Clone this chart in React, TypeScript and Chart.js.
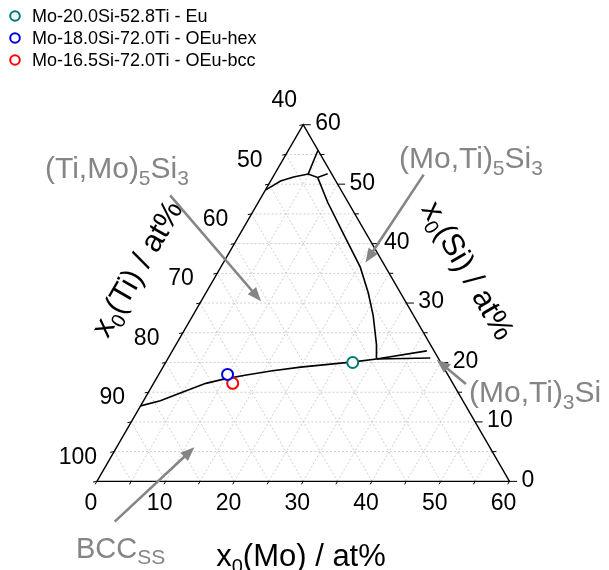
import React, { useEffect, useRef } from "react";
import { Chart, registerables } from "chart.js";

Chart.register(...registerables);

// ---------- data ----------
const moTicks = [0, 10, 20, 30, 40, 50, 60];
const siTicks = [0, 10, 20, 30, 40, 50, 60];
const tiTicks = [40, 50, 60, 70, 80, 90, 100];
const minorSteps = [0, 5, 10, 15, 20, 25, 30, 35, 40, 45, 50, 55, 60];
const gridSteps = [5, 10, 15, 20, 25, 30, 35, 40, 45, 50, 55];

const pointLabels = ["Mo-20.0Si-52.8Ti - Eu", "Mo-18.0Si-72.0Ti - OEu-hex", "Mo-16.5Si-72.0Ti - OEu-bcc"];
const pointSi = [20.0, 18.0, 16.5];
const pointTi = [52.8, 72.0, 72.0];
const pointColors = ["#007878", "#0000e6", "#ff0000"];

// phase boundaries (Mo, Si in at%)
const bccLineMo = [0, 2.45, 5.0, 7.6, 9.84, 12.6, 16.0, 20.0, 27.3, 30.36];
const bccLineSi = [12.7, 13.55, 15.02, 16.49, 17.2, 17.85, 18.57, 19.22, 20.1, 20.59];
const m3LowerMo = [30.36, 38.1];
const m3LowerSi = [20.59, 20.75];
const m3UpperMo = [30.36, 37.0];
const m3UpperSi = [20.59, 21.95];
const m5LineMo = [6.53, 10.08, 14.69, 20.28, 23.63, 26.26, 29.2, 30.36];
const m5LineSi = [51.14, 46.96, 42.0, 36.04, 31.68, 27.85, 22.93, 20.59];
const topLineMo = [0, 1.45, 2.99, 4.87, 6.53, 7.68];
const topLineSi = [49.0, 50.52, 51.22, 51.71, 51.14, 51.76];
const topBranchMo = [4.87, 4.3];
const topBranchSi = [51.71, 55.7];

// arrows: [tailMo, tailSi, tipMo, tipSi]
const arrowTi5Si3 = [-13.41, 48.11, 8.72, 30.3];
const arrowMo5Si3 = [21.72, 51.6, 20.65, 36.81];
const arrowMo3Si = [45.47, 16.38, 39.16, 20.48];
const arrowBcc = [5.98, -6.77, 11.31, 5.73];

// ---------- helpers ----------
const SQ3 = Math.sqrt(3) / 2;
const toXY = (mo: number, si: number) => ({ x: mo + si / 2, y: si * SQ3 });
const FONT = '"Liberation Sans", Arial, sans-serif';

function lineDs(pts: { x: number; y: number }[], color: string, width: number, order: number, dash: number[] = []) {
  return {
    type: "line" as const,
    data: pts,
    showLine: true,
    borderColor: color,
    borderWidth: width,
    borderDash: dash,
    pointRadius: 0,
    pointHoverRadius: 0,
    fill: false,
    tension: 0,
    order,
    clip: false as any,
  };
}

function curve(mo: number[], si: number[]) {
  return mo.map((m, i) => toXY(m, si[i]));
}

type Part = { t: string; sub?: boolean };

function richWidth(ctx: CanvasRenderingContext2D, parts: Part[], size: number, subSize: number) {
  let w = 0;
  for (const p of parts) {
    ctx.font = `${p.sub ? subSize : size}px ${FONT}`;
    w += ctx.measureText(p.t).width;
  }
  return w;
}

function drawRich(ctx: CanvasRenderingContext2D, parts: Part[], x: number, y: number, size: number, subSize: number, color: string) {
  ctx.fillStyle = color;
  ctx.textBaseline = "alphabetic";
  ctx.textAlign = "left";
  let cx = x;
  for (const p of parts) {
    ctx.font = `${p.sub ? subSize : size}px ${FONT}`;
    ctx.fillText(p.t, cx, p.sub ? y + size * 0.22 : y);
    cx += ctx.measureText(p.t).width;
  }
}

export default function App() {
  const ref = useRef<HTMLCanvasElement>(null);

  useEffect(() => {
    if (!ref.current) return;
    const datasets: any[] = [];

    // grid
    const gridColor = "#c4c4c4";
    for (const s of gridSteps) {
      datasets.push(lineDs([toXY(0, s), toXY(60 - s, s)], gridColor, 0.8, 5, [2, 2]));
      datasets.push(lineDs([toXY(s, 0), toXY(s, 60 - s)], gridColor, 0.8, 5, [2, 2]));
      datasets.push(lineDs([toXY(s, 0), toXY(0, s)], gridColor, 0.8, 5, [2, 2]));
    }
    // edges
    datasets.push(lineDs([toXY(0, 0), toXY(60, 0), toXY(0, 60), toXY(0, 0)], "#000", 1.4, 3));
    // ticks (lengths in data units; 1 unit ~ 7 px)
    for (const v of minorSteps) {
      const major = v % 10 === 0;
      const b = toXY(v, 0);
      datasets.push(lineDs([b, { x: b.x - 0.5 * 0.5, y: b.y - 0.866 * 0.5 }], "#000", 1, 3));
      const r = toXY(60 - v, v);
      datasets.push(lineDs([r, { x: r.x + (major ? 1.1 : 0.6), y: r.y }], "#000", 1, 3));
      const l = toXY(0, v);
      datasets.push(lineDs([l, { x: l.x - 0.55, y: l.y - 0.1 }], "#000", 1, 3));
    }
    // boundaries
    datasets.push(lineDs(curve(bccLineMo, bccLineSi), "#000", 1.6, 2));
    datasets.push(lineDs(curve(m3LowerMo, m3LowerSi), "#000", 1.6, 2));
    datasets.push(lineDs(curve(m3UpperMo, m3UpperSi), "#000", 1.6, 2));
    datasets.push(lineDs(curve(m5LineMo, m5LineSi), "#000", 1.6, 2));
    datasets.push(lineDs(curve(topLineMo, topLineSi), "#000", 1.6, 2));
    datasets.push(lineDs(curve(topBranchMo, topBranchSi), "#000", 1.6, 2));
    // points
    pointLabels.forEach((lab, i) => {
      const mo = 100 - pointSi[i] - pointTi[i];
      datasets.push({
        type: "scatter",
        label: lab,
        data: [toXY(mo, pointSi[i])],
        pointRadius: 5.5,
        pointHoverRadius: 5.5,
        pointBorderWidth: 2,
        pointBorderColor: pointColors[i],
        pointBackgroundColor: "#ffffff",
        showLine: false,
        order: 0,
        clip: false,
      });
    });

    const annot = {
      id: "annot",
      afterDatasetsDraw(chart: any) {
        const ctx: CanvasRenderingContext2D = chart.ctx;
        const xs = chart.scales.x;
        const ys = chart.scales.y;
        const P = (mo: number, si: number) => {
          const p = toXY(mo, si);
          return { x: xs.getPixelForValue(p.x), y: ys.getPixelForValue(p.y) };
        };
        ctx.save();
        // tick labels
        ctx.fillStyle = "#000";
        ctx.font = `23px ${FONT}`;
        ctx.textBaseline = "middle";
        ctx.textAlign = "center";
        moTicks.forEach((v) => {
          const p = P(v, 0);
          ctx.fillText(String(v), p.x - 6, p.y + 22);
        });
        tiTicks.forEach((v) => {
          const p = P(0, 100 - v);
          ctx.fillText(String(v), p.x - 19, p.y - 24);
        });
        ctx.textAlign = "left";
        siTicks.forEach((v) => {
          const p = P(60 - v, v);
          ctx.fillText(String(v), p.x + 12, p.y - 1);
        });

        // axis titles
        const tSize = 31;
        const tSub = 20;
        const moTitle: Part[] = [{ t: "x" }, { t: "0", sub: true }, { t: "(Mo) / at%" }];
        const siTitle: Part[] = [{ t: "x" }, { t: "0", sub: true }, { t: "(Si) / at%" }];
        const tiTitle: Part[] = [{ t: "x" }, { t: "0", sub: true }, { t: "(Ti) / at%" }];
        const drawCentered = (parts: Part[], cx: number, cy: number, ang: number) => {
          const w = richWidth(ctx, parts, tSize, tSub);
          ctx.save();
          ctx.translate(cx, cy);
          ctx.rotate(ang);
          drawRich(ctx, parts, -w / 2, tSize * 0.36, tSize, tSub, "#000");
          ctx.restore();
        };
        drawCentered(moTitle, 301, 555, 0);
        drawCentered(siTitle, 469, 270, Math.PI / 3);
        drawCentered(tiTitle, 136, 268, -Math.PI / 3);

        // arrows
        const gray = "#858585";
        const drawArrow = (a: number[]) => {
          const t = P(a[0], a[1]);
          const h = P(a[2], a[3]);
          const dx = h.x - t.x;
          const dy = h.y - t.y;
          const len = Math.hypot(dx, dy);
          const ux = dx / len;
          const uy = dy / len;
          const hl = 14;
          const hw = 5.5;
          ctx.strokeStyle = gray;
          ctx.lineWidth = 2.6;
          ctx.beginPath();
          ctx.moveTo(t.x, t.y);
          ctx.lineTo(h.x - ux * hl * 0.8, h.y - uy * hl * 0.8);
          ctx.stroke();
          ctx.fillStyle = gray;
          ctx.beginPath();
          ctx.moveTo(h.x, h.y);
          ctx.lineTo(h.x - ux * hl - uy * hw, h.y - uy * hl + ux * hw);
          ctx.lineTo(h.x - ux * hl + uy * hw, h.y - uy * hl - ux * hw);
          ctx.closePath();
          ctx.fill();
        };
        [arrowTi5Si3, arrowMo5Si3, arrowMo3Si, arrowBcc].forEach(drawArrow);

        // phase labels
        const pSize = 30;
        const pSub = 21;
        drawRich(ctx, [{ t: "(Ti,Mo)" }, { t: "5", sub: true }, { t: "Si" }, { t: "3", sub: true }], 45, 178, pSize, pSub, gray);
        drawRich(ctx, [{ t: "(Mo,Ti)" }, { t: "5", sub: true }, { t: "Si" }, { t: "3", sub: true }], 399, 168, pSize, pSub, gray);
        drawRich(ctx, [{ t: "(Mo,Ti)" }, { t: "3", sub: true }, { t: "Si" }], 469, 402, pSize, pSub, gray);
        drawRich(ctx, [{ t: "BCC" }, { t: "SS", sub: true }], 76, 558, pSize - 1, pSub, gray);

        // legend
        const rows = [16, 38, 60];
        pointLabels.forEach((lab, i) => {
          ctx.strokeStyle = pointColors[i];
          ctx.lineWidth = 2;
          ctx.fillStyle = "#fff";
          ctx.beginPath();
          ctx.arc(15, rows[i], 4.8, 0, Math.PI * 2);
          ctx.fill();
          ctx.stroke();
          ctx.fillStyle = "#000";
          ctx.font = `18px ${FONT}`;
          ctx.textAlign = "left";
          ctx.textBaseline = "middle";
          ctx.fillText(lab, 32, rows[i] + 1);
        });
        ctx.restore();
      },
    };

    const chart = new Chart(ref.current, {
      type: "scatter",
      data: { datasets },
      options: {
        animation: false,
        responsive: false,
        devicePixelRatio: 1,
        layout: { padding: 0 },
        events: [],
        plugins: { legend: { display: false }, tooltip: { enabled: false } },
        scales: {
          x: { type: "linear", min: -13.0, max: 73.38, display: false },
          y: { type: "linear", min: -11.82, max: 69.04, display: false },
        },
      },
      plugins: [annot],
    });
    return () => chart.destroy();
  }, []);

  return (
    <div style={{ position: "fixed", left: 0, top: 0, width: 609, height: 570, background: "#fff" }}>
      <canvas ref={ref} width={609} height={570} style={{ width: 609, height: 570 }} />
    </div>
  );
}
